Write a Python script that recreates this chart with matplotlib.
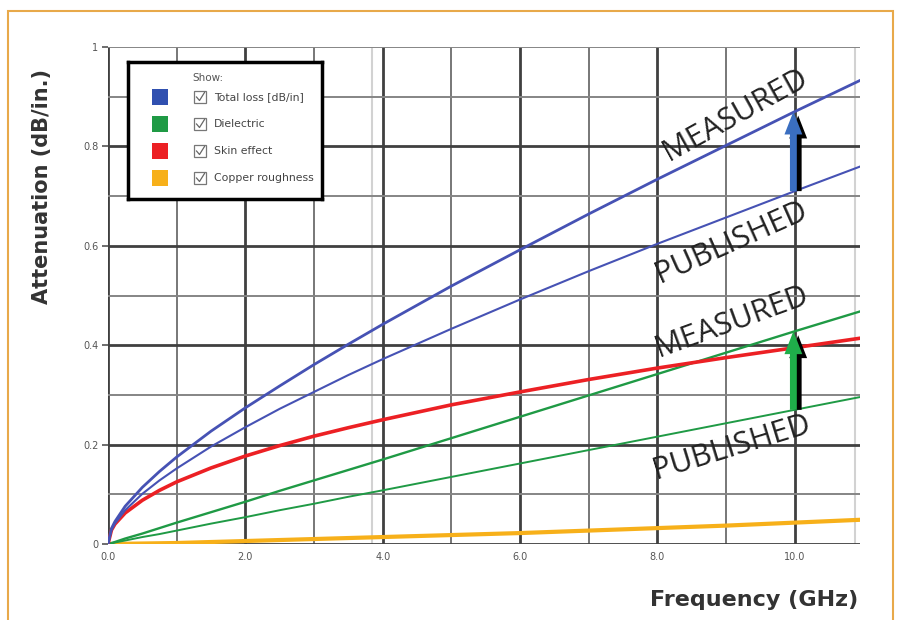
import numpy as np
import matplotlib as mpl
mpl.use('Agg')
import matplotlib.pyplot as plt
from matplotlib.patches import Rectangle

# Values (GHz -> dB/in.)
freq = [0, 0.05, 0.1, 0.25, 0.5, 0.75, 1, 1.5, 2, 2.5, 3, 3.5, 4, 5, 6, 7, 8, 9, 10, 11]
total_measured = [0, 0.031, 0.045, 0.076, 0.114, 0.146, 0.175, 0.227, 0.274, 0.318, 0.361, 0.402, 0.442, 0.519, 0.592, 0.664, 0.734, 0.802, 0.870, 0.936]
total_published = [0, 0.028, 0.041, 0.068, 0.101, 0.128, 0.152, 0.196, 0.235, 0.272, 0.306, 0.340, 0.372, 0.433, 0.492, 0.549, 0.604, 0.657, 0.710, 0.762]
skin = [0, 0.028, 0.040, 0.0625, 0.088, 0.108, 0.125, 0.153, 0.177, 0.198, 0.217, 0.234, 0.250, 0.280, 0.306, 0.331, 0.354, 0.375, 0.395, 0.415]
diel_measured = [0, 0.002, 0.004, 0.011, 0.021, 0.032, 0.043, 0.064, 0.085, 0.107, 0.128, 0.149, 0.170, 0.213, 0.256, 0.299, 0.342, 0.385, 0.428, 0.470]
diel_published = [0, 0.001, 0.003, 0.007, 0.014, 0.020, 0.027, 0.041, 0.054, 0.068, 0.081, 0.095, 0.108, 0.135, 0.162, 0.189, 0.216, 0.243, 0.270, 0.297]
roughness = [0, 0, 0, 0.0005, 0.001, 0.0015, 0.002, 0.004, 0.006, 0.008, 0.010, 0.012, 0.014, 0.018, 0.022, 0.027, 0.032, 0.037, 0.043, 0.049]

xticks = [0, 2, 4, 6, 8, 10]
xtick_labels = ['0.0', '2.0', '4.0', '6.0', '8.0', '10.0']
yticks = [0, 0.2, 0.4, 0.6, 0.8, 1.0]
ytick_labels = ['0', '0.2', '0.4', '0.6', '0.8', '1']

legend_names = ['Total loss [dB/in]', 'Dielectric', 'Skin effect', 'Copper roughness']

BLUE = '#4652b4'
BLUE_SQ = '#3050b0'
GREEN = '#1f9a45'
RED = '#ec2024'
ORANGE = '#f7b01a'
legend_colors = [BLUE_SQ, GREEN, RED, ORANGE]

fig = plt.figure(figsize=(8.98, 6.2), dpi=100, facecolor='white')
ax = fig.add_axes([108/898, 1-544/620, (860-108)/898, (544-47)/620])
ax.set_xlim(0, 10.95)
ax.set_ylim(0, 1.0)

# grid
for x in range(0, 11):
    major = x % 2 == 0
    ax.axvline(x, color='#404040' if major else '#777777', lw=2.0 if major else 1.4, zorder=1)
for x in [3.84, 10.87]:
    ax.axvline(x, color='#d2d2d2', lw=1.5, zorder=0.9)
for i in range(0, 11):
    y = i / 10
    major = i % 2 == 0 and i < 10
    ax.axhline(y, color='#404040' if major else '#858585', lw=2.0 if major else 1.4, zorder=1)

for s in ax.spines.values():
    s.set_visible(False)
ax.set_xticks(xticks)
ax.set_xticklabels(xtick_labels)
ax.set_yticks(yticks)
ax.set_yticklabels(ytick_labels)
ax.tick_params(axis='both', labelsize=7, colors='#555555', length=4, width=1.2, pad=3)
ax.tick_params(axis='x', length=0, pad=6)

# curves
ax.plot(freq, roughness, color=ORANGE, lw=3, zorder=3)
ax.plot(freq, diel_published, color=GREEN, lw=1.4, zorder=3)
ax.plot(freq, diel_measured, color=GREEN, lw=1.7, zorder=3)
ax.plot(freq, skin, color=RED, lw=2.6, zorder=3)
ax.plot(freq, total_published, color=BLUE, lw=1.5, zorder=3)
ax.plot(freq, total_measured, color=BLUE, lw=2.0, zorder=3)

# arrows published -> measured at 10 GHz
def shift_arrow(y0, y1, color):
    kw = dict(width=0.1, head_width=0.26, head_length=0.046, length_includes_head=True, lw=0, zorder=5)
    ax.arrow(10.05, y0, 0, y1 - y0 - 0.008, color='black', **kw)
    ax.arrow(9.98, y0, 0, y1 - y0, color=color, **kw)

i10 = freq.index(10)
shift_arrow(total_published[i10], total_measured[i10], '#3a6ec0')
shift_arrow(diel_published[i10], diel_measured[i10], '#1fae4a')

tkw = dict(fontsize=22, family='Open Sans', color='#222222', ha='center', va='center', zorder=6)
ax.text(9.13, 0.863, 'MEASURED', rotation=29, **tkw)
ax.text(9.08, 0.606, 'PUBLISHED', rotation=24, **tkw)
ax.text(9.08, 0.447, 'MEASURED', rotation=20, **tkw)
ax.text(9.08, 0.195, 'PUBLISHED', rotation=17, **tkw)

# legend panel
lax = fig.add_axes([128/898, 1-199/620, 194/898, 137/620])
lax.set_xlim(0, 194)
lax.set_ylim(137, 0)
lax.set_xticks([])
lax.set_yticks([])
for s in lax.spines.values():
    s.set_linewidth(2.5)
    s.set_color('black')
lax.text(64, 16, 'Show:', fontsize=7.5, color='#555555', va='center')
for k, (name, col) in enumerate(zip(legend_names, legend_colors)):
    yc = 35 + 27 * k
    lax.add_patch(Rectangle((24, yc - 8), 16, 16, facecolor=col, edgecolor='none'))
    lax.add_patch(Rectangle((66, yc - 6), 12, 12, facecolor='white', edgecolor='#777777', lw=0.9))
    lax.plot([68.5, 71.5, 76.5], [yc, yc + 3.5, yc - 4.5], color='#666666', lw=0.9)
    lax.text(86, yc, name, fontsize=7.8, color='#444444', va='center')

fig.text(0.047, 0.70, 'Attenuation (dB/in.)', rotation=90, fontsize=15, fontweight='bold',
         color='#333333', ha='center', va='center')
fig.text(858/898, 1-600/620, 'Frequency (GHz)', fontsize=16, fontweight='bold',
         color='#333333', ha='right', va='center')

# orange frame
fig.patches.append(Rectangle((8/898, -0.1), (893-8)/898, 1.1-11/620, transform=fig.transFigure,
                             fill=False, edgecolor='#e8a94a', lw=1.5))

fig.savefig('out.png', dpi=100, facecolor='white')
